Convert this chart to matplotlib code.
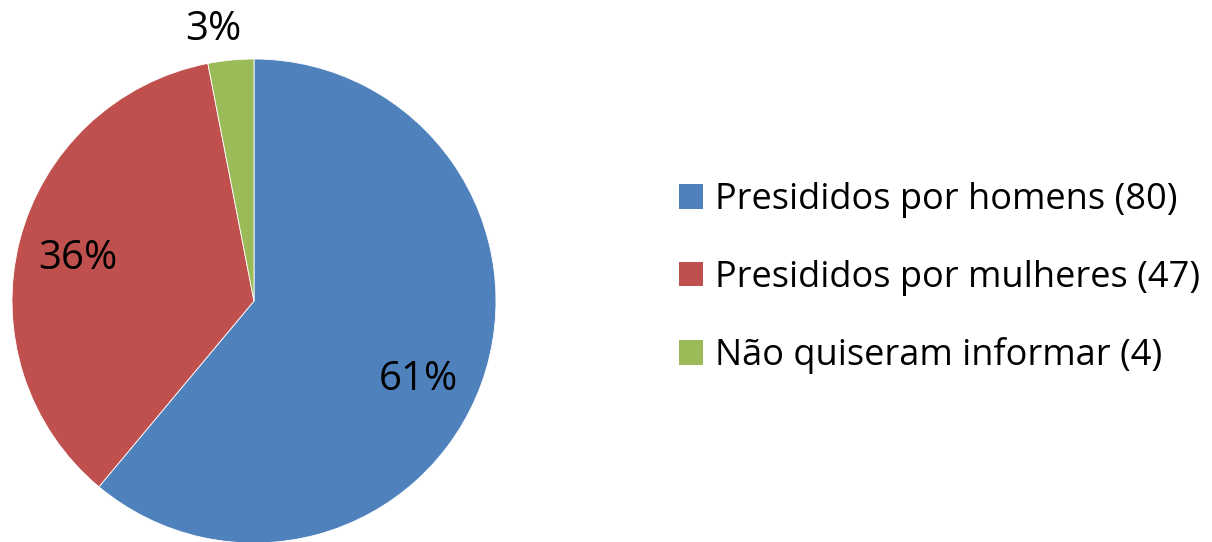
import matplotlib.pyplot as plt
from matplotlib.patches import Patch

# data
labels = ['Presididos por homens (80)', 'Presididos por mulheres (47)', 'Não quiseram informar (4)']
counts = [80, 47, 4]
colors = ['#4F81BD', '#C0504D', '#9BBB59']

plt.rcParams['font.family'] = ['Open Sans', 'DejaVu Sans']

fig = plt.figure(figsize=(12.12, 5.42), dpi=100)
ax = fig.add_axes([12 / 1212, -1 / 542, 484 / 1212, 484 / 542])

wedges, texts, pcts = ax.pie(counts, colors=colors, startangle=90, counterclock=False,
                             autopct='%1.0f%%', pctdistance=0.74,
                             wedgeprops=dict(edgecolor='white', linewidth=0.6),
                             textprops=dict(fontsize=29, color='black'))
# nudge labels to where the original puts them
pcts[0].set_position((0.678, -0.326))
pcts[1].set_position((-0.727, 0.174))
pcts[2].set_position((-0.17, 1.12))
ax.set_xlim(-1, 1)
ax.set_ylim(-1, 1)
ax.set_aspect('equal')

handles = [Patch(facecolor=c, edgecolor='none') for c in colors]
fig.legend(handles, labels, loc='center left', bbox_to_anchor=(679 / 1212, 0.487),
           frameon=False, fontsize=26, handlelength=0.67, handleheight=0.67,
           handletextpad=0.33, labelspacing=1.15, borderpad=0, borderaxespad=0)

fig.savefig('out.png', dpi=100)
